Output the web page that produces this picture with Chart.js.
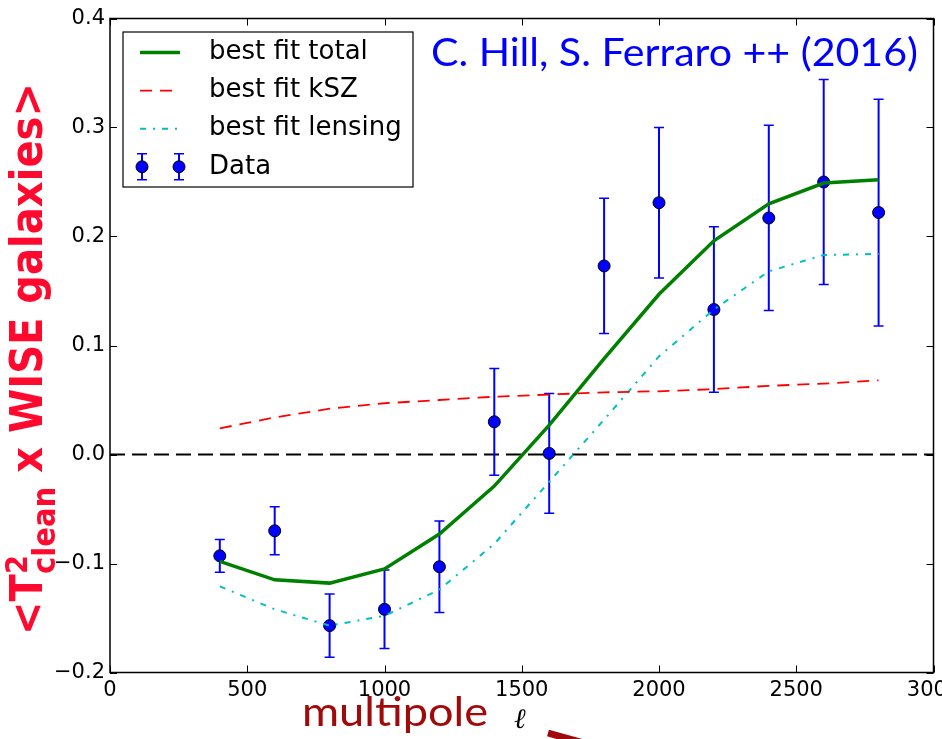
<!DOCTYPE html>
<html>
<head>
<meta charset="utf-8">
<script src="https://cdn.jsdelivr.net/npm/chart.js@4.4.1/dist/chart.umd.min.js"></script>
<style>
    html, body { margin: 0; padding: 0; background: #fff; }
    #contenedor { width: 942px; height: 739px; }
</style>
</head>
<body>
<div id="contenedor"><canvas id="grafico" width="942" height="739"></canvas></div>
<script>
// multipolos (ell) de cada bin
const multipolos = [400, 600, 800, 1000, 1200, 1400, 1600, 1800, 2000, 2200, 2400, 2600, 2800];
// datos medidos y su error (1 sigma)
const datos   = [-0.093, -0.070, -0.157, -0.142, -0.103, 0.030, 0.001, 0.173, 0.231, 0.133, 0.217, 0.250, 0.222];
const errores = [0.015, 0.022, 0.029, 0.036, 0.042, 0.049, 0.055, 0.062, 0.069, 0.076, 0.085, 0.094, 0.104];
// curvas de mejor ajuste
const ajusteTotal   = [-0.098, -0.115, -0.118, -0.105, -0.073, -0.029, 0.027, 0.088, 0.147, 0.196, 0.230, 0.249, 0.252];
const ajusteKSZ     = [0.024, 0.034, 0.042, 0.047, 0.050, 0.053, 0.055, 0.057, 0.058, 0.060, 0.063, 0.065, 0.068];
const ajusteLensing = [-0.121, -0.142, -0.157, -0.148, -0.124, -0.082, -0.025, 0.032, 0.090, 0.133, 0.168, 0.183, 0.184];

const etiquetas = ['best fit total', 'best fit kSZ', 'best fit lensing', 'Data'];
const titulo = 'C. Hill, S. Ferraro ++ (2016)';

const aPuntos = (vals) => multipolos.map((l, i) => ({ x: l, y: vals[i] }));

const fmtY = (v) => {
    if (Math.abs(v) < 1e-9) return '0.0';
    const s = v.toFixed(1);
    return s.replace('-', '\u2212');
};

const adornos = {
    id: 'adornos',
    beforeDatasetsDraw(chart) {
        const { ctx, chartArea: a, scales: { x, y } } = chart;
        ctx.save();
        // linea de cero
        const y0 = y.getPixelForValue(0);
        ctx.strokeStyle = '#000';
        ctx.lineWidth = 1.8;
        ctx.setLineDash([15, 7]);
        ctx.beginPath();
        ctx.moveTo(a.left, y0);
        ctx.lineTo(a.right, y0);
        ctx.stroke();
        ctx.setLineDash([]);
        // barras de error
        ctx.strokeStyle = '#0000ff';
        multipolos.forEach((l, i) => {
            const px = x.getPixelForValue(l);
            const arriba = y.getPixelForValue(datos[i] + errores[i]);
            const abajo = y.getPixelForValue(datos[i] - errores[i]);
            ctx.lineWidth = 2;
            ctx.beginPath();
            ctx.moveTo(px, arriba);
            ctx.lineTo(px, abajo);
            ctx.stroke();
            ctx.lineWidth = 1.5;
            ctx.beginPath();
            ctx.moveTo(px - 5, arriba); ctx.lineTo(px + 5, arriba);
            ctx.moveTo(px - 5, abajo); ctx.lineTo(px + 5, abajo);
            ctx.stroke();
        });
        ctx.restore();
    },
    afterDraw(chart) {
        const { ctx, chartArea: a, scales: { x, y } } = chart;
        ctx.save();

        // marco
        ctx.strokeStyle = '#000';
        ctx.lineWidth = 1.5;
        ctx.strokeRect(a.left, a.top, a.right - a.left, a.bottom - a.top);

        // ticks hacia adentro
        ctx.lineWidth = 1;
        ctx.beginPath();
        x.ticks.forEach(t => {
            const px = Math.round(x.getPixelForValue(t.value)) + 0.5;
            ctx.moveTo(px, a.bottom); ctx.lineTo(px, a.bottom - 7);
            ctx.moveTo(px, a.top); ctx.lineTo(px, a.top + 7);
        });
        y.ticks.forEach(t => {
            const py = Math.round(y.getPixelForValue(t.value)) + 0.5;
            ctx.moveTo(a.left, py); ctx.lineTo(a.left + 7, py);
            ctx.moveTo(a.right, py); ctx.lineTo(a.right - 7, py);
        });
        ctx.stroke();

        // leyenda
        const lx = a.left + 13, ly = a.top + 13.5, lw = 290, lh = 155;
        ctx.fillStyle = '#fff';
        ctx.fillRect(lx, ly, lw, lh);
        ctx.strokeStyle = '#000';
        ctx.lineWidth = 1.2;
        ctx.strokeRect(lx, ly, lw, lh);
        const ds = chart.data.datasets;
        ctx.font = '26px "DejaVu Sans"';
        ctx.textBaseline = 'middle';
        ctx.textAlign = 'left';
        etiquetas.forEach((txt, i) => {
            const cy = ly + 20.5 + i * 38.1;
            const d = ds[i];
            if (i < 3) {
                ctx.strokeStyle = d.borderColor;
                ctx.lineWidth = d.borderWidth;
                ctx.setLineDash(d.borderDash || []);
                ctx.beginPath();
                ctx.moveTo(lx + 17, cy);
                ctx.lineTo(lx + 57, cy);
                ctx.stroke();
                ctx.setLineDash([]);
            } else {
                [lx + 19, lx + 56].forEach(mx => {
                    ctx.strokeStyle = '#0000ff';
                    ctx.lineWidth = 2;
                    ctx.beginPath();
                    ctx.moveTo(mx, cy - 13); ctx.lineTo(mx, cy + 13);
                    ctx.stroke();
                    ctx.lineWidth = 1.5;
                    ctx.beginPath();
                    ctx.moveTo(mx - 5, cy - 13); ctx.lineTo(mx + 5, cy - 13);
                    ctx.moveTo(mx - 5, cy + 13); ctx.lineTo(mx + 5, cy + 13);
                    ctx.stroke();
                    ctx.beginPath();
                    ctx.arc(mx, cy, 6, 0, Math.PI * 2);
                    ctx.fillStyle = '#0000ff';
                    ctx.fill();
                    ctx.strokeStyle = '#000';
                    ctx.lineWidth = 1;
                    ctx.stroke();
                });
            }
            ctx.fillStyle = '#000';
            ctx.fillText(txt, lx + 86, cy);
        });

        // titulo en azul, alineado a la derecha
        ctx.font = '38px Lato';
        ctx.fillStyle = '#0000ff';
        ctx.textBaseline = 'alphabetic';
        const anchoT = ctx.measureText(titulo).width;
        const kT = 487 / anchoT;
        ctx.save();
        ctx.translate(918 - 487, 66);
        ctx.scale(kT, 1);
        ctx.textAlign = 'left';
        ctx.fillText(titulo, 0, 0);
        ctx.restore();

        // etiqueta eje x
        ctx.font = '40px Lato';
        ctx.fillStyle = '#a00a0a';
        const anchoM = ctx.measureText('multipole').width;
        ctx.save();
        ctx.translate(302, 726);
        ctx.scale(186 / anchoM, 1);
        ctx.fillText('multipole', 0, 0);
        ctx.restore();
        ctx.font = 'italic 28px "DejaVu Serif"';
        ctx.fillStyle = '#000';
        ctx.fillText('\u2113', 514, 728);
        // trozo de flecha
        ctx.strokeStyle = '#a00a0a';
        ctx.lineWidth = 7;
        ctx.beginPath();
        ctx.moveTo(548, 733);
        ctx.lineTo(605, 749);
        ctx.stroke();

        // etiqueta eje y (rotada)
        const rojo = '#ff0a2e';
        const fGrande = 'bold 44px "DejaVu Sans"';
        const fSup = 'bold 30px "DejaVu Sans"';
        const fSub = 'bold 32px "DejaVu Sans"';
        ctx.font = fGrande;
        const w1 = ctx.measureText('<T').width;
        const w3 = ctx.measureText(' x WISE galaxies>').width;
        ctx.font = fSup;
        const w2a = ctx.measureText('2').width;
        ctx.font = fSub;
        const w2b = ctx.measureText('clean').width;
        const w2 = Math.max(w2a, w2b);
        const total = w1 + w2 + w3;
        const kY = 552 / total;
        ctx.save();
        ctx.translate(42, 635);
        ctx.rotate(-Math.PI / 2);
        ctx.scale(kY, 1);
        ctx.fillStyle = rojo;
        ctx.textAlign = 'left';
        ctx.font = fGrande;
        ctx.fillText('<T', 0, 0);
        ctx.font = fSup;
        ctx.fillText('2', w1, -15);
        ctx.font = fSub;
        ctx.fillText('clean', w1, 13);
        ctx.font = fGrande;
        ctx.fillText(' x WISE galaxies>', w1 + w2, 0);
        ctx.restore();

        ctx.restore();
    }
};

const ctx = document.getElementById('grafico').getContext('2d');
const grafico = new Chart(ctx, {
    type: 'scatter',
    data: {
        datasets: [
            {
                label: etiquetas[0],
                data: aPuntos(ajusteTotal),
                showLine: true,
                borderColor: '#008000',
                borderWidth: 3.5,
                pointRadius: 0,
                tension: 0,
                order: 1
            },
            {
                label: etiquetas[1],
                data: aPuntos(ajusteKSZ),
                showLine: true,
                borderColor: '#ff0000',
                borderWidth: 1.8,
                borderDash: [12, 8],
                pointRadius: 0,
                order: 1
            },
            {
                label: etiquetas[2],
                data: aPuntos(ajusteLensing),
                showLine: true,
                borderColor: '#00bfbf',
                borderWidth: 2,
                borderDash: [6, 7, 2, 7],
                pointRadius: 0,
                order: 1
            },
            {
                label: etiquetas[3],
                data: aPuntos(datos),
                showLine: false,
                pointRadius: 6,
                pointBackgroundColor: '#0000ff',
                pointBorderColor: '#000',
                pointBorderWidth: 1,
                order: 10
            }
        ]
    },
    options: {
        responsive: false,
        animation: false,
        devicePixelRatio: 1,
        layout: { autoPadding: false, padding: { top: 18.5, right: 8.5, left: 0, bottom: 0 } },
        plugins: {
            legend: { display: false },
            tooltip: { enabled: false }
        },
        scales: {
            x: {
                type: 'linear',
                min: 0,
                max: 3000,
                ticks: {
                    stepSize: 500,
                    padding: 5,
                    autoSkip: false,
                    maxRotation: 0,
                    color: '#000',
                    font: { family: 'DejaVu Sans', size: 21 },
                    callback: (v) => String(Math.round(v))
                },
                grid: { display: false, drawTicks: false },
                border: { display: false },
                afterFit(s) { s.height = 66.5; s.paddingLeft = 0; s.paddingRight = 0; }
            },
            y: {
                min: -0.2,
                max: 0.4,
                ticks: {
                    stepSize: 0.1,
                    padding: 5,
                    color: '#000',
                    font: { family: 'DejaVu Sans', size: 21 },
                    callback: (v) => fmtY(v)
                },
                grid: { display: false, drawTicks: false },
                border: { display: false },
                afterFit(s) { s.width = 110; s.paddingTop = 0; s.paddingBottom = 0; }
            }
        }
    },
    plugins: [adornos]
});
</script>
</body>
</html>
